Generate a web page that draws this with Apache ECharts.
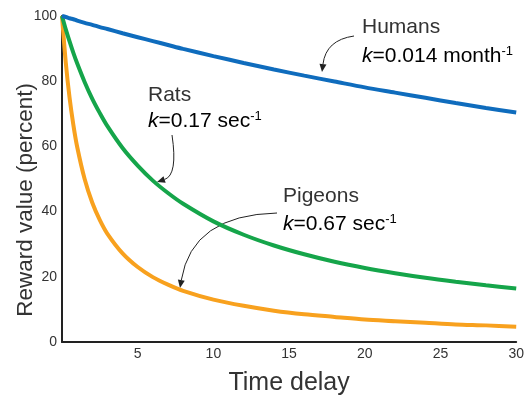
<!DOCTYPE html>
<html>
<head>
<meta charset="utf-8">
<script src="https://cdn.jsdelivr.net/npm/echarts@6/dist/echarts.min.js"></script>
<style>
  html, body { margin: 0; padding: 0; background: #fff; }
  #chart { width: 527px; height: 401px; }
</style>
</head>
<body>
<div id="chart"></div>
<script>
// values (reward value in percent at each delay)
var delays   = [0, 0.25, 0.5, 0.75, 1, 1.5, 2, 2.5, 3, 4, 5, 6, 7, 8, 10, 12, 14, 16, 18, 20, 22, 24, 26, 28, 30];
var humans   = [100, 99.7, 99.3, 99.0, 98.6, 97.9, 97.3, 96.6, 96.0, 94.7, 93.5, 92.3, 91.1, 89.9, 87.7, 85.6, 83.6, 81.7, 79.9, 78.1, 76.5, 74.9, 73.3, 71.8, 70.4];
var rats     = [100, 95.9, 92.2, 88.7, 85.5, 79.7, 74.6, 70.2, 66.2, 59.5, 54.1, 49.5, 45.7, 42.4, 37.0, 32.9, 29.6, 26.9, 24.6, 22.7, 21.1, 19.7, 18.5, 17.4, 16.4];
var pigeons  = [100, 85.7, 74.9, 66.6, 59.9, 49.9, 42.7, 37.4, 33.2, 27.2, 23.0, 19.9, 17.6, 15.7, 13.0, 11.1, 9.6, 8.5, 7.7, 6.9, 6.4, 5.9, 5.4, 5.1, 4.7];
var xTicks = [5, 10, 15, 20, 25, 30];
var yTicks = [0, 20, 40, 60, 80, 100];

var chart = echarts.init(document.getElementById("chart"));

function pairs(vals) {
  return delays.map(function (d, i) { return [d, vals[i]]; });
}

// small arrow: quadratic curve + head pointing along end tangent
function arrow(x1, y1, cx, cy, x2, y2) {
  var dx = x2 - cx, dy = y2 - cy;
  var len = Math.sqrt(dx * dx + dy * dy);
  dx /= len; dy /= len;
  var L = 8, W = 3.5;
  var bx = x2 - dx * L, by = y2 - dy * L;
  return [
    {
      type: "bezierCurve",
      shape: { x1: x1, y1: y1, cpx1: cx, cpy1: cy, x2: bx, y2: by },
      style: { stroke: "#222", lineWidth: 1, fill: null }
    },
    {
      type: "polygon",
      shape: { points: [[x2, y2], [bx - dy * W, by + dx * W], [bx + dy * W, by - dx * W]] },
      style: { fill: "#222" }
    }
  ];
}

var font = "Liberation Sans, Arial, sans-serif";
var rich = {
  i: { fontStyle: "italic", fontSize: 21, fontFamily: font, color: "#333", lineHeight: 22 },
  t: { fontSize: 21, fontFamily: font, color: "#333", lineHeight: 22 },
  s: { fontSize: 13, fontFamily: font, color: "#333", verticalAlign: "top", lineHeight: 22, padding: [0, 0, 8, 0] }
};

function label(x, y, gap, name, kText) {
  return [
    { type: "text", left: x, top: y, style: { text: name, font: "21px " + font, fill: "#333" } },
    {
      type: "text", left: x, top: y + gap,
      style: { text: "{i|k}{t|=" + kText + "}{s|-1}", rich: rich }
    }
  ];
}

var graphics = []
  .concat(label(362, 17, 28, "Humans", "0.014 month"))
  .concat(label(148, 85, 25, "Rats", "0.17 sec"))
  .concat(label(283, 186, 27, "Pigeons", "0.67 sec"))
  .concat(arrow(354, 36, 326, 40, 322, 72))
  .concat(arrow(172, 135, 178, 175, 157, 182))
  .concat(arrow(277, 213, 192, 215, 180, 288));

graphics.push({
  type: "text",
  left: 14,
  top: 83,
  rotation: Math.PI / 2,
  style: { text: "Reward value (percent)", font: "22.5px " + font, fill: "#333" }
});

chart.setOption({
  animation: false,
  grid: { left: 62, right: 8, top: 16, bottom: 54 },
  xAxis: {
    type: "value",
    min: 0,
    max: 30,
    interval: 5,
    name: "Time delay",
    nameLocation: "middle",
    nameGap: 29,
    nameTextStyle: { fontSize: 25, color: "#333", fontFamily: font },
    axisLine: { lineStyle: { color: "#222", width: 2 } },
    axisTick: { show: false },
    splitLine: { show: false },
    axisLabel: {
      fontSize: 14, color: "#333", fontFamily: font, margin: 5,
      formatter: function (v) { return xTicks.indexOf(v) >= 0 ? String(v) : ""; }
    }
  },
  yAxis: {
    type: "value",
    min: 0,
    max: 100,
    interval: 20,
    axisLine: { show: true, lineStyle: { color: "#222", width: 2 } },
    axisTick: { show: false },
    splitLine: { show: false },
    axisLabel: {
      fontSize: 14, color: "#333", fontFamily: font, margin: 5,
      formatter: function (v) { return yTicks.indexOf(v) >= 0 ? String(v) : ""; }
    }
  },
  series: [
    { name: "Pigeons", type: "line", data: pairs(pigeons), smooth: 0.3, showSymbol: false, lineStyle: { color: "#f8a11e", width: 4 } },
    { name: "Rats", type: "line", data: pairs(rats), smooth: 0.3, showSymbol: false, lineStyle: { color: "#15a54a", width: 4 } },
    { name: "Humans", type: "line", data: pairs(humans), smooth: 0.3, showSymbol: false, lineStyle: { color: "#0f6cbd", width: 4 } }
  ],
  graphic: graphics
});
</script>
</body>
</html>
